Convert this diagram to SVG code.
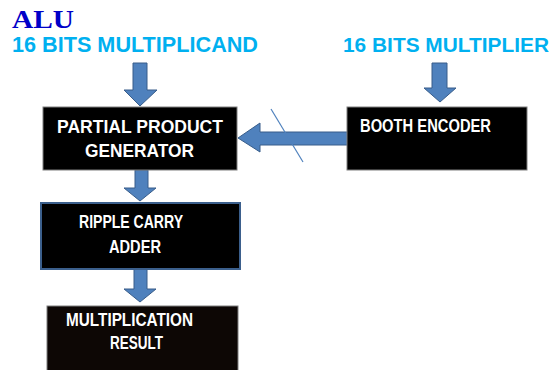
<svg xmlns="http://www.w3.org/2000/svg" width="555" height="370" viewBox="0 0 555 370">
<style>
.box{fill:#000;stroke:#7f7f7f;stroke-width:1}
.lbl{fill:#fff;font-family:"Liberation Sans",Arial,sans-serif;font-weight:bold;font-size:18px}
.title{fill:#00b0f0;font-family:"Liberation Sans",Arial,sans-serif;font-weight:bold;font-size:22px}
.arrow{fill:#4f81bd;stroke:#385d8a;stroke-width:1}
</style>
<rect width="555" height="370" fill="#fff"/>
<text x="12" y="28" font-family="Liberation Serif,'Times New Roman',serif" font-weight="bold" font-size="26" fill="#0000c8" textLength="62" lengthAdjust="spacingAndGlyphs">ALU</text>
<text class="title" x="12" y="52" textLength="246" lengthAdjust="spacingAndGlyphs">16 BITS MULTIPLICAND</text>
<text class="title" x="343" y="52" font-size="20.5" style="font-size:20.5px" textLength="206" lengthAdjust="spacingAndGlyphs">16 BITS MULTIPLIER</text>
<g id="connectors">
<path class="arrow" d="M133,63 H147 V90 H157 L140,106 L124,90 H133 Z"/>
<path class="arrow" d="M432,63 H447 V88 H456 L440,102 L424,88 H432 Z"/>
<path class="arrow" d="M348,132 V145 H260 V152 L238,138 L260,123 V132 Z"/>
<line x1="271" y1="109" x2="303" y2="162" stroke="#4f81bd" stroke-width="1.2"/>
<path class="arrow" d="M135,170 H148 V188 H156 L140,201 L124,188 H135 Z"/>
<path class="arrow" d="M134,269 H147 V289 H156 L140,302 L124,289 H134 Z"/>
</g>
<g id="ppg">
<rect class="box" x="43" y="107" width="194" height="63"/>
<text class="lbl" x="57" y="133" textLength="166" lengthAdjust="spacingAndGlyphs">PARTIAL PRODUCT</text>
<text class="lbl" x="85" y="157" textLength="109" lengthAdjust="spacingAndGlyphs">GENERATOR</text>
</g>
<g id="booth">
<rect class="box" x="347" y="107" width="180" height="63"/>
<text class="lbl" x="360" y="132" textLength="131" lengthAdjust="spacingAndGlyphs">BOOTH ENCODER</text>
</g>
<g id="rca">
<rect x="41" y="203" width="199" height="66" fill="#000" stroke="#3b5f8c" stroke-width="2"/>
<text class="lbl" x="79" y="228" textLength="104" lengthAdjust="spacingAndGlyphs">RIPPLE CARRY</text>
<text class="lbl" x="109" y="253" textLength="52" lengthAdjust="spacingAndGlyphs">ADDER</text>
</g>
<g id="result">
<rect x="47" y="306" width="191" height="70" fill="#0d0705" stroke="#7f7f7f" stroke-width="1"/>
<text class="lbl" x="66" y="326" textLength="127" lengthAdjust="spacingAndGlyphs">MULTIPLICATION</text>
<text class="lbl" x="110" y="349" textLength="53" lengthAdjust="spacingAndGlyphs">RESULT</text>
</g>
</svg>
